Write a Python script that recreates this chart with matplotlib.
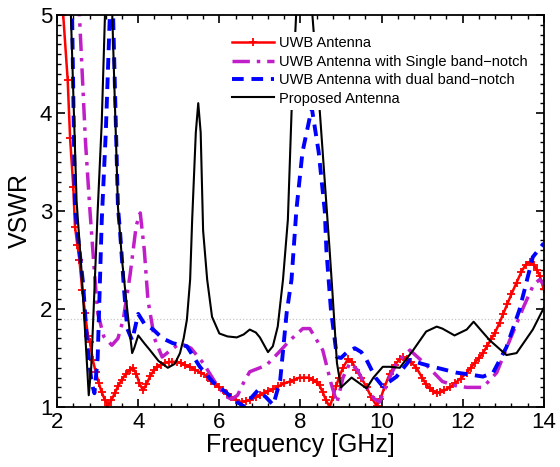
import matplotlib
matplotlib.use("Agg")
import matplotlib.pyplot as plt
from matplotlib.ticker import MultipleLocator

plt.rcParams['font.family'] = ['Liberation Sans', 'DejaVu Sans']

# ---------------------------------------------------------------------
# VSWR data (frequency in GHz)
# ---------------------------------------------------------------------

uwb_f = [2.0, 2.15, 2.26, 2.32, 2.4, 2.44, 2.5, 2.55, 2.62, 2.69, 2.76, 2.81,
         2.88, 2.95, 3.03, 3.1, 3.18, 3.26, 3.34, 3.42, 3.5, 3.6, 3.7, 3.8,
         3.87, 3.95, 4.03, 4.12, 4.2, 4.3, 4.4, 4.46, 4.55, 4.65, 4.75, 4.83,
         4.95, 5.05, 5.15, 5.28, 5.4, 5.55, 5.7, 5.8, 5.9, 6.0, 6.1, 6.2, 6.3,
         6.42, 6.55, 6.65, 6.75, 6.9, 7.0, 7.1, 7.2, 7.33, 7.45, 7.6, 7.74,
         7.85, 7.98, 8.1, 8.2, 8.3, 8.4, 8.47, 8.55, 8.63, 8.72, 8.8, 8.88,
         8.95, 9.05, 9.17, 9.27, 9.38, 9.5, 9.63, 9.75, 9.88, 9.97, 10.07,
         10.2, 10.33, 10.45, 10.53, 10.62, 10.72, 10.86, 11.0, 11.1, 11.19,
         11.28, 11.36, 11.45, 11.55, 11.69, 11.8, 11.95, 12.1, 12.2, 12.3,
         12.4, 12.5, 12.6, 12.7, 12.8, 12.91, 13.0, 13.1, 13.2, 13.33, 13.45,
         13.55, 13.65, 13.75, 13.83, 13.9, 14.0]
uwb_v = [6.5, 5.0, 4.34, 3.74, 3.24, 2.84, 2.65, 2.5, 2.19, 1.96, 1.72, 1.66,
         1.48, 1.36, 1.24, 1.15, 1.07, 1.02, 1.07, 1.14, 1.21, 1.28, 1.34, 1.38,
         1.40, 1.34, 1.24, 1.17, 1.23, 1.32, 1.38, 1.41, 1.43, 1.45, 1.46, 1.46,
         1.46, 1.45, 1.43, 1.41, 1.38, 1.35, 1.31, 1.27, 1.23, 1.20, 1.17, 1.13,
         1.10, 1.07, 1.05, 1.06, 1.07, 1.10, 1.12, 1.14, 1.16, 1.18, 1.21, 1.24,
         1.26, 1.28, 1.30, 1.30, 1.30, 1.28, 1.25, 1.22, 1.15, 1.07, 1.0, 1.10,
         1.21, 1.30, 1.40, 1.49, 1.46, 1.38, 1.30, 1.20, 1.10, 1.01, 1.08, 1.20,
         1.34, 1.43, 1.49, 1.51, 1.49, 1.46, 1.40, 1.30, 1.23, 1.19,
         1.16, 1.14, 1.15, 1.17, 1.20, 1.24, 1.29, 1.35, 1.40, 1.45,
         1.50, 1.55, 1.62, 1.69, 1.76, 1.86, 1.95, 2.05, 2.15, 2.27, 2.38,
         2.45, 2.48, 2.45, 2.40, 2.34, 2.20]

single_f = [2.3, 2.55, 2.7, 2.81, 2.91, 3.0, 3.15, 3.35, 3.5, 3.63, 3.8, 3.95,
            4.05, 4.15, 4.24, 4.4, 4.59, 4.8, 5.03, 5.3, 5.6, 5.9, 6.15, 6.3,
            6.45, 6.6, 6.75, 7.0, 7.17, 7.45, 7.74, 8.06, 8.23, 8.55, 8.75,
            8.9, 9.05, 9.22, 9.4, 9.6, 9.8, 9.95, 10.2, 10.37, 10.7, 11.1, 11.5,
            11.8, 12.1, 12.5, 12.84, 13.16, 13.5, 13.75, 13.9, 14.0]
single_v = [7.0, 5.0, 3.7, 3.0, 2.43, 1.96, 1.72, 1.63, 1.70, 1.89, 2.35, 2.85,
            2.98, 2.6, 2.09, 1.70, 1.51, 1.58, 1.65, 1.60, 1.45, 1.25, 1.11, 1.08,
            1.12, 1.25, 1.36, 1.40, 1.43, 1.55, 1.68, 1.80, 1.80, 1.58, 1.25,
            1.04, 1.30, 1.45, 1.38, 1.22, 1.09, 1.05, 1.30, 1.45, 1.58, 1.43, 1.26,
            1.22, 1.20, 1.20, 1.35, 1.68, 2.02, 2.25, 2.30, 2.25]

dual_f = [2.3, 2.37, 2.44, 2.55, 2.64, 2.74, 2.85, 2.92, 3.0, 3.1, 3.2, 3.3,
          3.33, 3.38, 3.5, 3.55, 3.65, 3.73, 3.85, 4.0, 4.15, 4.37, 4.6, 4.86,
          5.2, 5.52, 5.85, 6.19, 6.4, 6.63, 6.8, 6.95, 7.15, 7.33, 7.5, 7.66,
          7.78, 7.9, 8.05, 8.28, 8.45, 8.6, 8.64, 8.75, 8.9, 9.0, 9.15, 9.34,
          9.5, 9.63, 9.85, 10.03, 10.2, 10.37, 10.7, 11.0, 11.27, 11.85, 12.2,
          12.5, 12.75, 13.08, 13.4, 13.73, 14.0]
dual_v = [6.0, 5.0, 3.04, 2.6, 2.26, 1.65, 1.25, 1.14, 1.5, 2.9, 3.8, 5.0,
          5.6, 5.0, 3.04, 2.8, 2.2, 1.8, 1.68, 1.95, 1.85, 1.79, 1.70, 1.65,
          1.62, 1.41, 1.25, 1.14, 1.06, 1.0, 1.10, 1.17, 1.10, 1.02, 1.27, 1.96,
          2.3, 3.01, 3.6, 4.05, 3.6, 3.0, 2.6, 2.0, 1.51, 1.50, 1.56, 1.60,
          1.56, 1.48, 1.30, 1.21, 1.26, 1.31, 1.48, 1.44, 1.41, 1.35, 1.33,
          1.31, 1.35, 1.61, 1.99, 2.53, 2.67]

prop_f = [2.3, 2.34, 2.48, 2.6, 2.74, 2.78, 2.84, 2.89, 3.0, 3.1, 3.18, 3.27,
          3.36, 3.5, 3.6, 3.73, 3.85, 3.9, 4.0, 4.15, 4.29, 4.5, 4.73, 4.9,
          5.03, 5.12, 5.2, 5.28, 5.33, 5.42, 5.48, 5.54, 5.6, 5.7, 5.82, 6.0,
          6.2, 6.43, 6.6, 6.75, 6.9, 7.0, 7.2, 7.32, 7.44, 7.57, 7.69, 7.78,
          7.89, 8.0, 8.15, 8.3, 8.48, 8.72, 8.8, 8.9, 9.0, 9.26, 9.63, 9.8,
          10.03, 10.2, 10.45, 10.78, 11.1, 11.36, 11.5, 11.8, 12.1, 12.27,
          12.5, 12.67, 13.08, 13.33, 13.73, 14.0]
prop_v = [6.0, 5.0, 3.1, 2.4, 1.41, 1.12, 1.4, 1.89, 3.0, 3.9, 5.0, 5.6,
          5.0, 3.04, 2.5, 1.99, 1.55, 1.6, 1.73, 1.65, 1.58, 1.47, 1.40, 1.44,
          1.55, 1.70, 1.89, 2.3, 2.91, 3.8, 4.1, 3.8, 2.8, 2.3, 1.92, 1.75,
          1.72, 1.71, 1.74, 1.79, 1.76, 1.71, 1.56, 1.62, 1.82, 2.3, 2.91, 4.0,
          4.97, 5.8, 6.0, 4.97, 4.0, 2.6, 2.1, 1.45, 1.2, 1.3, 1.19, 1.30,
          1.41, 1.41, 1.40, 1.58, 1.77, 1.82, 1.80, 1.73, 1.79, 1.87,
          1.76, 1.68, 1.53, 1.55, 1.79, 2.01]

labels = ["UWB Antenna", "UWB Antenna with Single band\u2212notch",
          "UWB Antenna with dual band\u2212notch", "Proposed Antenna"]
ref_level = 1.9


fig = plt.figure(figsize=(5.6, 4.67), dpi=100)
ax = fig.add_axes([0.102, 0.1285, 0.869, 0.8395])

ax.axhline(ref_level, color='#c8c8c8', linestyle=':', linewidth=0.9, zorder=1)

ax.plot(uwb_f, uwb_v, color='red', linewidth=1.8, marker='+',
        markersize=5.5, markeredgewidth=1.3, label=labels[0])
ax.plot(single_f, single_v, color='#c01ec8', linewidth=2.5,
        linestyle=(0, (5, 2, 1, 2)), label=labels[1])
ax.plot(dual_f, dual_v, color='#0000ff', linewidth=2.8,
        linestyle=(0, (3, 2)), label=labels[2])
ax.plot(prop_f, prop_v, color='black', linewidth=1.5, label=labels[3])

ax.set_xlim(2, 14)
ax.set_ylim(1, 5)
ax.xaxis.set_major_locator(MultipleLocator(2))
ax.xaxis.set_minor_locator(MultipleLocator(0.4))
ax.yaxis.set_major_locator(MultipleLocator(1))
ax.yaxis.set_minor_locator(MultipleLocator(0.1))
ax.tick_params(which='both', direction='in', top=True, right=True)
ax.tick_params(which='major', length=6, width=1.2, labelsize=16)
ax.tick_params(which='minor', length=3, width=1.0)
for sp in ax.spines.values():
    sp.set_linewidth(1.3)

ax.set_xlabel("Frequency [GHz]", fontsize=18, labelpad=0)
ax.set_ylabel("VSWR", fontsize=18, labelpad=6)

leg = ax.legend(loc='upper left', bbox_to_anchor=(0.335, 0.975),
                fontsize=10.5, handlelength=2.9, handletextpad=0.35,
                labelspacing=0.3, borderpad=0.3, frameon=True,
                fancybox=False, framealpha=1.0)
leg.get_frame().set_edgecolor('none')
leg.get_frame().set_facecolor('white')

fig.savefig("out.png", dpi=100)
